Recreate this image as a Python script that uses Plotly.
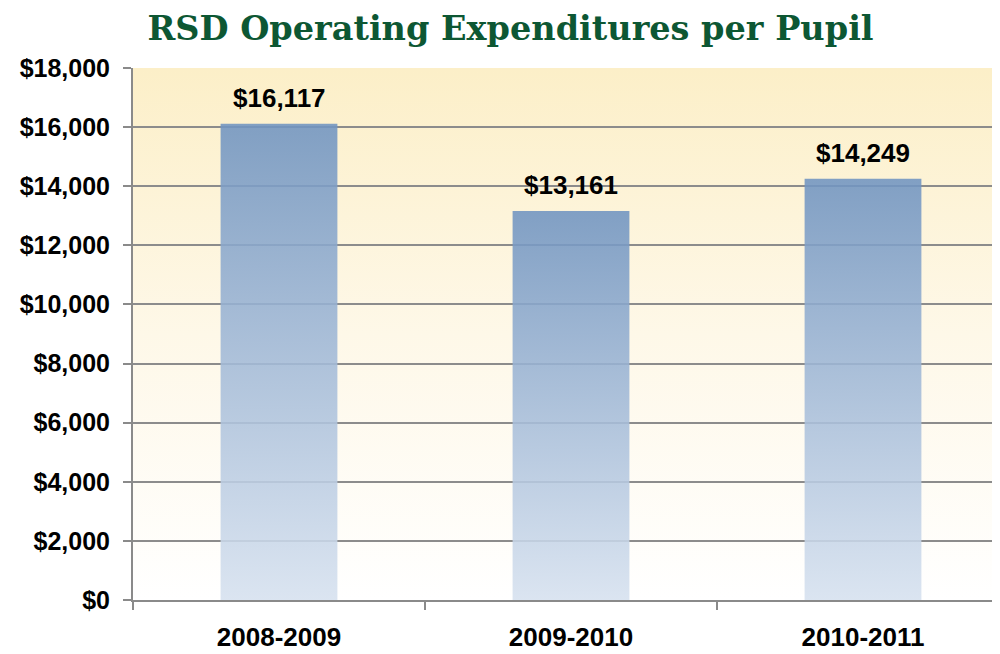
import plotly.graph_objects as go

categories = ["2008-2009", "2009-2010", "2010-2011"]
values = [16117, 13161, 14249]
y_ticks = [0, 2000, 4000, 6000, 8000, 10000, 12000, 14000, 16000, 18000]

BAR_W = 0.4
fig = go.Figure()

for i, v in enumerate(values):
    x0, x1 = i - BAR_W / 2, i + BAR_W / 2
    fig.add_trace(go.Scatter(
        x=[x0, x1, x1, x0, x0], y=[0, 0, v, v, 0],
        mode="lines", line=dict(width=0), fill="toself",
        fillgradient=dict(type="vertical",
                          colorscale=[[0, "rgba(214,225,239,0.88)"],
                                      [1, "rgba(112,148,193,0.88)"]]),
        hoverinfo="skip", showlegend=False))

for i, v in enumerate(values):
    fig.add_annotation(x=i, y=v, text=f"<b>${v:,}</b>", showarrow=False,
                       yanchor="bottom", yshift=9,
                       font=dict(family="Liberation Sans, Arial", size=26, color="#000"))

bg_svg = ("data:image/svg+xml;utf8,<svg xmlns='http://www.w3.org/2000/svg' width='10' height='100' preserveAspectRatio='none'>"
          "<defs><linearGradient id='g' x1='0' y1='0' x2='0' y2='1'>"
          "<stop offset='0' stop-color='%23fcefc8'/><stop offset='0.5' stop-color='%23fef8e8'/>"
          "<stop offset='1' stop-color='%23ffffff'/></linearGradient></defs>"
          "<rect width='10' height='100' fill='url(%23g)'/></svg>")
fig.add_layout_image(dict(source=bg_svg, xref="paper", yref="paper", x=0, y=1,
                          sizex=1, sizey=1, sizing="stretch", layer="below",
                          xanchor="left", yanchor="top"))

# page has an 8px body margin; margins compensate so the plot lands where the reference has it
fig.update_layout(
    width=1001, height=654,
    margin=dict(l=125, r=0, t=60, b=62, autoexpand=False),
    paper_bgcolor="white", plot_bgcolor="rgba(0,0,0,0)",
    title=dict(text="<b>RSD Operating Expenditures per Pupil</b>", x=0.502, xanchor="center",
               y=0.969, yanchor="middle",
               font=dict(family="DejaVu Serif", size=33.5, color="#0d5733")),
    xaxis=dict(range=[-0.5, 2.5], tickvals=[0, 1, 2], ticktext=categories,
               showgrid=False, zeroline=False, ticks="", automargin=False,
               showline=True, linecolor="#8a8a8a", linewidth=2,
               tickfont=dict(family="Liberation Sans, Arial", size=26, color="#000"),
               ticklabelstandoff=13,
               minor=dict(tickvals=[-0.5, 0.5, 1.5, 2.5], ticks="outside", ticklen=8,
                          tickcolor="#8a8a8a", tickwidth=2, showgrid=False)),
    yaxis=dict(range=[0, 18000], tickvals=y_ticks, automargin=False,
               ticktext=[f"${t:,}" for t in y_ticks],
               showgrid=True, gridcolor="#8c8c8c", gridwidth=2, zeroline=False,
               showline=True, linecolor="#8a8a8a", linewidth=2,
               ticks="outside", ticklen=8, tickcolor="#8a8a8a", tickwidth=2,
               tickfont=dict(family="Liberation Sans, Arial", size=25, color="#000"),
               ticklabelstandoff=8),
)
fig.update_xaxes(tickfont_weight="bold")
fig.update_yaxes(tickfont_weight="bold")

fig.write_html("out.html")
